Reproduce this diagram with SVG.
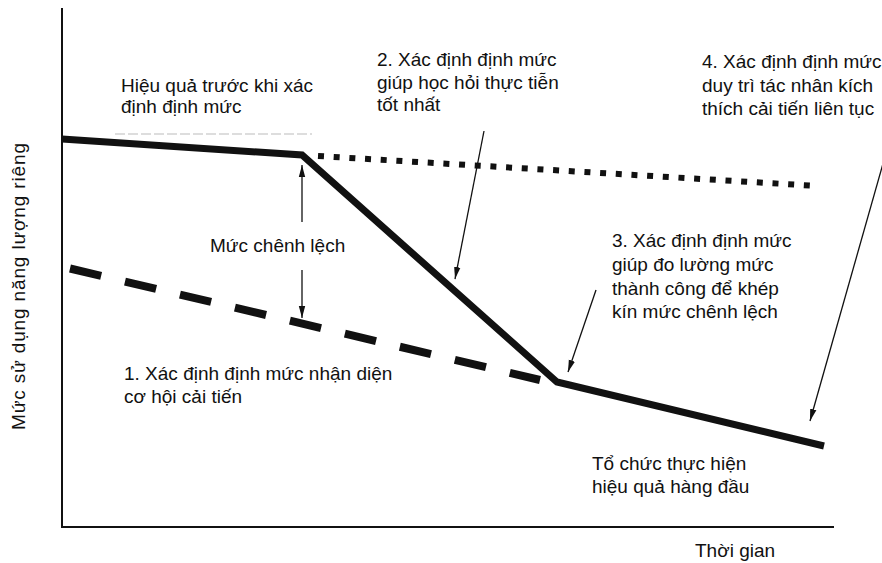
<svg xmlns="http://www.w3.org/2000/svg" width="882" height="563" viewBox="0 0 882 563">
<defs>
<marker id="ah" viewBox="0 0 12 8" refX="12" refY="4" markerWidth="12" markerHeight="8" markerUnits="userSpaceOnUse" orient="auto">
<path d="M0,0.8 L12,4 L0,7.2 Z" fill="#111"/>
</marker>
<style>
text{font-family:"Liberation Sans",Arial,sans-serif;font-size:19px;fill:#111}
.axis{stroke:#111;stroke-width:2;fill:none}
.thin{stroke:#111;stroke-width:1.3;fill:none;marker-end:url(#ah)}
</style>
</defs>
<rect width="882" height="563" fill="#fff"/>
<g id="axes">
<path class="axis" d="M62,8 L62,527 L834,527"/>
</g>
<g id="series">
<line x1="115" y1="134" x2="312" y2="134" stroke="#bbb" stroke-width="1.2" stroke-dasharray="10 3"/>
<polyline points="62,139 302,155 557,382 824,446" fill="none" stroke="#111" stroke-width="7" stroke-linejoin="miter"/>
<line x1="318" y1="156" x2="818" y2="186" stroke="#111" stroke-width="6" stroke-dasharray="6 9.7"/>
<line x1="70" y1="268.5" x2="540" y2="380" stroke="#111" stroke-width="8" stroke-dasharray="32 24.5"/>
</g>
<g id="connectors">
<line class="thin" x1="302" y1="222" x2="302" y2="165"/>
<line class="thin" x1="302" y1="270" x2="302" y2="318"/>
<line class="thin" x1="484" y1="131" x2="455" y2="279"/>
<line class="thin" x1="596" y1="290" x2="568" y2="372"/>
<line class="thin" x1="884" y1="160" x2="810" y2="421"/>
</g>
<g id="label-before">
<text x="121" y="92">Hiệu quả trước khi xác</text>
<text x="121" y="113">định định mức</text>
</g>
<g id="label-2">
<text x="377" y="66">2. Xác định định mức</text>
<text x="377" y="88.5">giúp học hỏi thực tiễn</text>
<text x="377" y="111">tốt nhất</text>
</g>
<g id="label-4">
<text x="702" y="68">4. Xác định định mức</text>
<text x="702" y="91.5">duy trì tác nhân kích</text>
<text x="702" y="115">thích cải tiến liên tục</text>
</g>
<g id="label-gap">
<text x="210" y="252">Mức chênh lệch</text>
</g>
<g id="label-3">
<text x="612" y="247">3. Xác định định mức</text>
<text x="612" y="271">giúp đo lường mức</text>
<text x="612" y="295">thành công để khép</text>
<text x="612" y="318">kín mức chênh lệch</text>
</g>
<g id="label-1">
<text x="124" y="380">1. Xác định định mức nhận diện</text>
<text x="124" y="403">cơ hội cải tiến</text>
</g>
<g id="label-leader">
<text x="592" y="470">Tổ chức thực hiện</text>
<text x="592" y="493">hiệu quả hàng đầu</text>
</g>
<g id="axis-labels">
<text x="695" y="557">Thời gian</text>
<text transform="translate(25,430) rotate(-90)" x="0" y="0" textLength="287" lengthAdjust="spacing">Mức sử dụng năng lượng riêng</text>
</g>
</svg>
